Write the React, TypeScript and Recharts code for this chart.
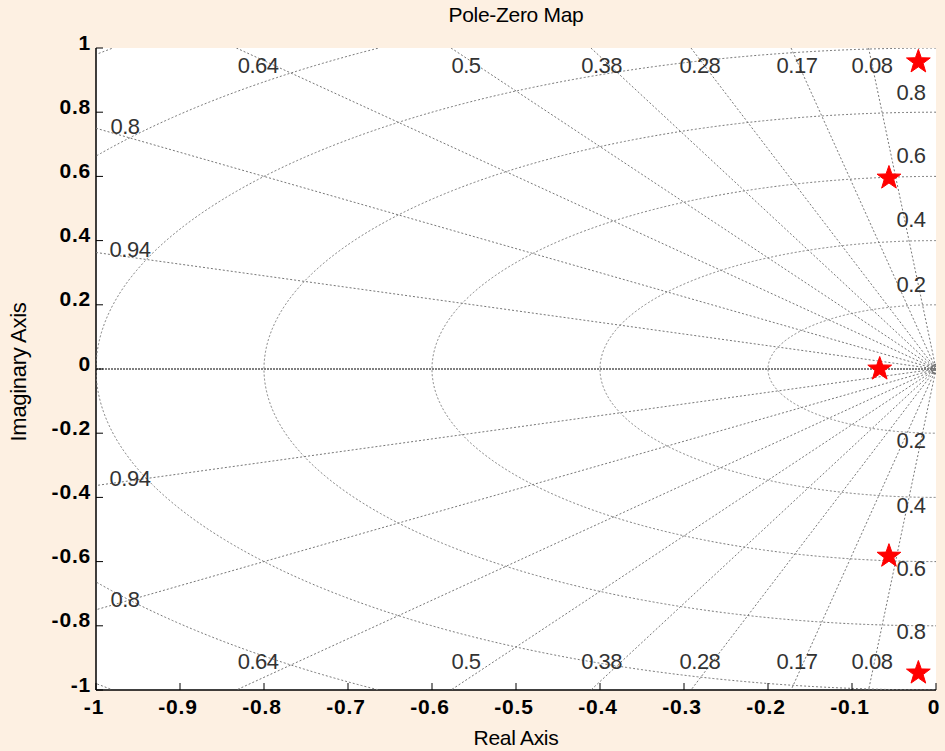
import { ScatterChart, Scatter, XAxis, YAxis, ReferenceLine, CartesianGrid } from 'recharts'

// axis ticks
const xTicks = [-1, -0.9, -0.8, -0.7, -0.6, -0.5, -0.4, -0.3, -0.2, -0.1, 0]
const yTicks = [-1, -0.8, -0.6, -0.4, -0.2, 0, 0.2, 0.4, 0.6, 0.8, 1]

// grid: damping ratios and natural frequencies
const zetaValues = [0.08, 0.17, 0.28, 0.38, 0.5, 0.64, 0.8, 0.94]
const wnValues = [0.2, 0.4, 0.6, 0.8, 1.0, 1.2, 1.4]

// poles (stars) and zero at the origin
const poleRe = [-0.021, -0.056, -0.067, -0.056, -0.021]
const poleIm = [0.957, 0.595, 0, -0.583, -0.947]
const zeroRe = [0]
const zeroIm = [0]

// grid label texts and where they sit (data units)
const zetaTopText = ['0.64', '0.5', '0.38', '0.28', '0.17', '0.08']
const zetaTopRe = [-0.807, -0.5595, -0.398, -0.281, -0.1655, -0.0762]
const zetaTopIm = [0.947, -0.91]
const zetaSideText = ['0.8', '0.94']
const zetaSideRe = [-0.9655, -0.9595]
const zetaSideImUp = [0.754, 0.372]
const zetaSideImDown = [-0.717, -0.34]
const wnText = ['0.2', '0.4', '0.6', '0.8']
const wnLabelRe = -0.0298
const wnLabelImUp = [0.262, 0.467, 0.664, 0.86]
const wnLabelImDown = [-0.224, -0.424, -0.623, -0.819]

const GRID = '#777777'
const FONT = '"Liberation Sans", Arial, sans-serif'

const gridLine = { stroke: GRID, strokeWidth: 1, strokeDasharray: '2 2' }

type Pt = { x: number; y: number }

const inBox = (p: Pt) => p.x >= -1.0001 && p.x <= 0.0001 && p.y >= -1.0001 && p.y <= 1.0001

// split a sampled curve into the runs that fall inside the axes box
function clipRuns(pts: Pt[]) {
  const runs: Pt[][] = []
  let cur: Pt[] = []
  for (const p of pts) {
    if (inBox(p)) cur.push(p)
    else if (cur.length) {
      runs.push(cur)
      cur = []
    }
  }
  if (cur.length) runs.push(cur)
  return runs.filter((r) => r.length > 1)
}

function zetaPath(z: number): Pt[] {
  const s = Math.sqrt(1 - z * z)
  const t = Math.min(1 / z, 1 / s)
  return [
    { x: -z * t, y: s * t },
    { x: 0, y: 0 },
    { x: -z * t, y: -s * t },
  ]
}

function wnRuns(wn: number) {
  const pts: Pt[] = []
  const n = 1440
  for (let i = 0; i <= n; i++) {
    const a = Math.PI / 2 + (Math.PI * i) / n
    pts.push({ x: wn * Math.cos(a), y: wn * Math.sin(a) })
  }
  return clipRuns(pts)
}

const circleRuns = wnValues.flatMap((w) => wnRuns(w))

const poles = poleRe.map((x, i) => ({ x, y: poleIm[i] }))
const zeros = zeroRe.map((x, i) => ({ x, y: zeroIm[i] }))

const labels = [
  ...zetaTopText.flatMap((t, i) => zetaTopIm.map((y) => ({ x: zetaTopRe[i], y, text: t }))),
  ...zetaSideText.map((t, i) => ({ x: zetaSideRe[i], y: zetaSideImUp[i], text: t })),
  ...zetaSideText.map((t, i) => ({ x: zetaSideRe[i], y: zetaSideImDown[i], text: t })),
  ...wnText.map((t, i) => ({ x: wnLabelRe, y: wnLabelImUp[i], text: t })),
  ...wnText.map((t, i) => ({ x: wnLabelRe, y: wnLabelImDown[i], text: t })),
]

const fmt = (v: number) => String(Math.round(v * 10) / 10)

// eslint-disable-next-line @typescript-eslint/no-explicit-any
function BottomTick({ x, y, payload }: any) {
  return (
    <g>
      <line x1={x} x2={x} y1={y} y2={y - 7} stroke="#000" />
      <text x={x - 2} y={y + 16} textAnchor="middle" dominantBaseline="central"
        fontFamily={FONT} fontWeight="bold" fontSize={21} letterSpacing={0.8} fill="#000">
        {fmt(payload.value)}
      </text>
    </g>
  )
}

// eslint-disable-next-line @typescript-eslint/no-explicit-any
function LeftTick({ x, y, payload }: any) {
  return (
    <g>
      <line x1={x} x2={x + 7} y1={y} y2={y} stroke="#000" />
      <text x={x - 5} y={y - 6} textAnchor="end" dominantBaseline="central"
        fontFamily={FONT} fontWeight="bold" fontSize={21} letterSpacing={0.8} fill="#000">
        {fmt(payload.value)}
      </text>
    </g>
  )
}

// eslint-disable-next-line @typescript-eslint/no-explicit-any
function TopTick({ x, y }: any) {
  return <line x1={x} x2={x} y1={y} y2={y + 7} stroke="#000" />
}

// eslint-disable-next-line @typescript-eslint/no-explicit-any
function RightTick({ x, y }: any) {
  return <line x1={x} x2={x - 7} y1={y} y2={y} stroke="#333" />
}

// eslint-disable-next-line @typescript-eslint/no-explicit-any
function Star({ cx, cy }: any) {
  const outer = 12.5
  const inner = 5
  const pts = []
  for (let i = 0; i < 10; i++) {
    const r = i % 2 === 0 ? outer : inner
    const a = -Math.PI / 2 + (Math.PI * i) / 5
    pts.push(`${cx + r * Math.cos(a)},${cy + r * Math.sin(a)}`)
  }
  return <polygon points={pts.join(' ')} fill="#ff0000" stroke="#ff0000" />
}

// eslint-disable-next-line @typescript-eslint/no-explicit-any
function ZeroMark({ cx, cy }: any) {
  return <circle cx={cx} cy={cy} r={4.5} fill="none" stroke="#707070" strokeWidth={1.5} />
}

// eslint-disable-next-line @typescript-eslint/no-explicit-any
function GridLabel({ cx, cy, payload }: any) {
  return (
    <text x={cx} y={cy} textAnchor="middle" dominantBaseline="central"
      fontFamily={FONT} fontSize={22} fill="#333" letterSpacing={-0.5}>
      {payload.text}
    </text>
  )
}

const noShape = () => <g />

const labelStyle = {
  position: 'absolute' as const,
  left: 0,
  width: 1032,
  textAlign: 'center' as const,
  fontFamily: FONT,
  fontSize: 21,
  color: '#000',
  letterSpacing: -0.3,
}

export default function App() {
  return (
    <div style={{ position: 'absolute', left: 0, top: 0, width: 945, height: 751, background: '#fdf0e2' }}>
      <ScatterChart width={945} height={751} margin={{ top: 48, right: 9, left: 0, bottom: 0 }}>
        <CartesianGrid fill="#ffffff" horizontal={false} vertical={false} />
        <XAxis type="number" dataKey="x" domain={[-1, 0]} ticks={xTicks} allowDataOverflow
          height={61} tickSize={0} tickMargin={0} tickLine={false} tick={<BottomTick />}
          axisLine={{ stroke: '#000', strokeWidth: 1.5 }} interval={0} />
        <XAxis xAxisId="top" orientation="top" type="number" dataKey="x" domain={[-1, 0]} ticks={xTicks}
          allowDataOverflow height={0} tickSize={0} tickMargin={0} tickLine={false} tick={<TopTick />}
          axisLine={{ stroke: '#000', strokeWidth: 1.5 }} interval={0} />
        <YAxis type="number" dataKey="y" domain={[-1, 1]} ticks={yTicks} allowDataOverflow
          width={96} tickSize={0} tickMargin={0} tickLine={false} tick={<LeftTick />}
          axisLine={{ stroke: '#000', strokeWidth: 1.5 }} interval={0} />
        <YAxis yAxisId="right" orientation="right" type="number" dataKey="y" domain={[-1, 1]} ticks={yTicks}
          allowDataOverflow width={0} tickSize={0} tickMargin={0} tickLine={false} tick={<RightTick />}
          axisLine={{ stroke: '#3c3c3c', strokeWidth: 4 }} interval={0} />

        <ReferenceLine y={0} stroke="#555" strokeWidth={1.5} strokeDasharray="2 1" />

        {zetaValues.map((z) => (
          <Scatter key={`z${z}`} data={zetaPath(z)} line={gridLine} shape={noShape}
            isAnimationActive={false} />
        ))}
        {circleRuns.map((run, i) => (
          <Scatter key={`w${i}`} data={run} line={gridLine} shape={noShape}
            isAnimationActive={false} />
        ))}

        <Scatter data={labels} shape={<GridLabel />} isAnimationActive={false} />
        <Scatter data={zeros} shape={<ZeroMark />} isAnimationActive={false} />
        <Scatter data={poles} shape={<Star />} isAnimationActive={false} />
      </ScatterChart>

      <div style={{ ...labelStyle, top: 3 }}>Pole-Zero Map</div>
      <div style={{ ...labelStyle, top: 726 }}>Real Axis</div>
      <div style={{ position: 'absolute', left: 19, top: 372, width: 0, height: 0 }}>
        <div style={{ position: 'absolute', left: -100, top: -13, width: 200, textAlign: 'center',
          transform: 'rotate(-90deg)', fontFamily: FONT, fontSize: 22, color: '#000', letterSpacing: -0.3,
          lineHeight: '26px' }}>
          Imaginary Axis
        </div>
      </div>
    </div>
  )
}
